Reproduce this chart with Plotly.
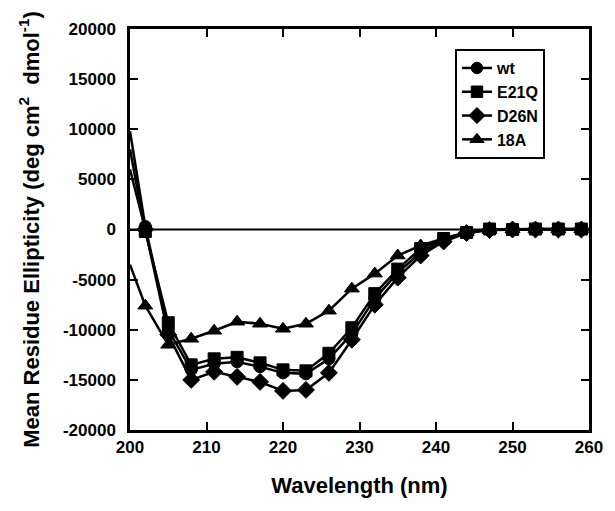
import plotly.graph_objects as go

wavelength = [200, 202, 205, 208, 211, 214, 217, 220, 223, 226, 229, 232, 235, 238, 241, 244, 247, 250, 253, 256, 259]

wt = [9800, 300, -10000, -14000, -13400, -13200, -13700, -14300, -14400, -12900, -10400, -6900, -4300, -2300, -1000, -300, 0, 50, 50, 50, 50]
e21q = [8000, -200, -9300, -13500, -12900, -12750, -13300, -14000, -14100, -12350, -9800, -6400, -3950, -1900, -900, -300, 50, 0, 50, 50, 50]
d26n = [6000, 0, -10500, -15000, -14200, -14700, -15200, -16100, -16000, -14300, -11000, -7500, -4800, -2600, -1200, -350, -50, 0, 0, 0, 0]
a18 = [-3500, -7600, -11500, -10900, -10100, -9200, -9400, -9900, -9400, -8100, -5900, -4400, -2600, -1600, -900, -300, -50, 0, 0, 0, 0]

series = [
    ("wt", wt, "circle", 12),
    ("E21Q", e21q, "square", 12),
    ("D26N", d26n, "diamond", 13),
    ("18A", a18, "triangle-up", 13),
]

x_ticks = [200, 210, 220, 230, 240, 250, 260]
y_ticks = [-20000, -15000, -10000, -5000, 0, 5000, 10000, 15000, 20000]

fig = go.Figure()

# zero line
fig.add_trace(go.Scatter(x=[200, 260], y=[0, 0], mode="lines",
                         line=dict(color="black", width=2), showlegend=False, hoverinfo="skip"))

for name, vals, sym, msize in series:
    sizes = [0] + [msize] * (len(wavelength) - 1)
    fig.add_trace(go.Scatter(
        x=wavelength, y=vals, name=name, mode="lines+markers",
        line=dict(color="black", width=2.5),
        marker=dict(symbol=sym, size=sizes, color="black", opacity=1,
                    line=dict(color="black", width=1)),
    ))

font_family = "Liberation Sans, Arial, sans-serif"

fig.update_layout(
    width=607, height=503,
    margin=dict(l=122, r=26, t=17, b=81),
    paper_bgcolor="white", plot_bgcolor="white",
    font=dict(family=font_family, color="black", size=17),
    legend=dict(
        x=0.708, y=0.95, xanchor="left", yanchor="top",
        bordercolor="black", borderwidth=2, bgcolor="white",
        font=dict(size=16, family=font_family, weight="bold"),
        tracegroupgap=0,
    ),
    xaxis=dict(
        range=[200, 260], tickvals=x_ticks, ticktext=[str(v) for v in x_ticks],
        showgrid=False, zeroline=False, showline=True, linecolor="black", linewidth=2.5,
        mirror="ticks", ticks="inside", ticklen=8, tickwidth=2, tickcolor="black",
        tickfont=dict(size=17, weight="bold"),
        title=dict(text="Wavelength (nm)", font=dict(size=22, weight="bold"), standoff=22),
    ),
    yaxis=dict(
        range=[-20000, 20000], tickvals=y_ticks, ticktext=[str(v) for v in y_ticks],
        showgrid=False, zeroline=False, showline=True, linecolor="black", linewidth=2.5,
        mirror="ticks", ticks="inside", ticklen=8, tickwidth=2, tickcolor="black",
        tickfont=dict(size=17, weight="bold"), ticklabelstandoff=8,
        title=dict(text="Mean Residue Ellipticity (deg cm<sup>2</sup>  dmol<sup>-1</sup>)",
                   font=dict(size=22, weight="bold"), standoff=18),
    ),
)

fig.write_html("out.html")
